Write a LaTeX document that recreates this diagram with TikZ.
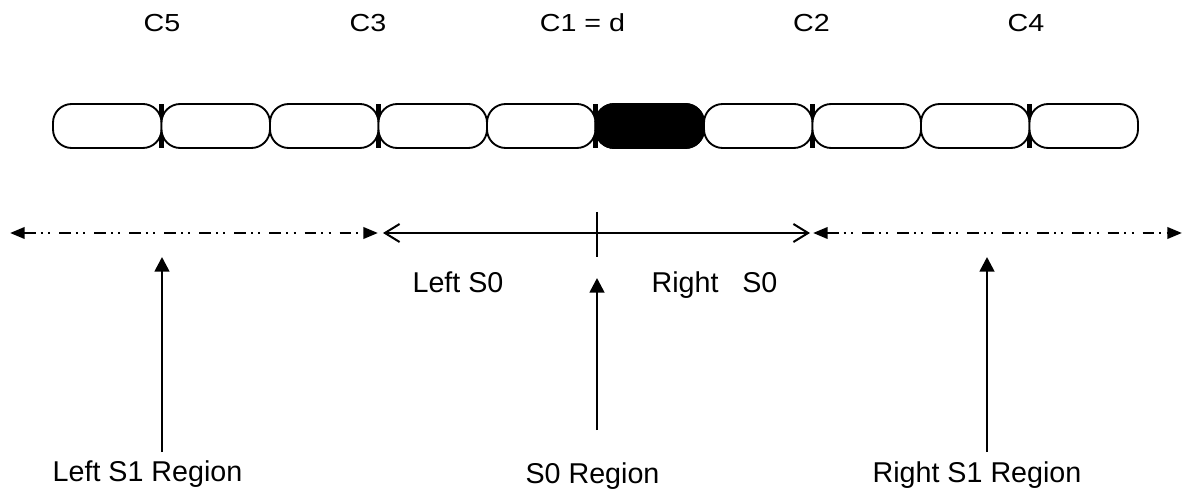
\documentclass[tikz,border=0pt]{standalone}
\usepackage{fontspec}
\setmainfont{Liberation Sans}
\usetikzlibrary{arrows.meta}
\begin{document}
\begin{tikzpicture}[x=0.75pt,y=-0.75pt,
  capsule/.style={draw,line width=1.4pt,rounded corners=14pt,fill=white,minimum width=81.375pt,minimum height=33pt,inner sep=0pt,outer sep=0pt},
  darkcap/.style={capsule,fill=black},
  lbl/.style={font=\fontsize{21.5}{26}\selectfont,inner sep=0pt,anchor=base},
  toplbl/.style={lbl},
  dashdot/.style={line width=2pt,dash pattern=on 8.8pt off 3.75pt on 1.5pt off 4pt on 1.5pt off 6.75pt,
     {Triangle[length=11pt,width=8.5pt]}-{Triangle[length=11pt,width=8.5pt]}},
  solidspan/.style={line width=1.5pt,{Straight Barb[length=11pt,width=13.5pt,line width=1.5pt]}-{Straight Barb[length=11pt,width=13.5pt,line width=1.5pt]}},
  uparrow/.style={line width=2pt,-{Triangle[length=11pt,width=11pt]}},
  pinch/.style={fill=black}
]
\useasboundingbox (0,0) rectangle (1184,498);
% pinches behind capsules
\foreach \x in {161.5,378.5,595.5,812.5,1029.5}{
  \fill[pinch] (\x-2.5,104) rectangle (\x+2.5,148);
}
% capsules
\foreach \i [evaluate=\i as \cx using 107.25+108.5*(\i-1)] in {1,...,10}{
  \node[capsule] (k\i) at (\cx,126) {};
}
\node[darkcap] (k6b) at (649.75,126) {};
% top labels
\node[toplbl] (c5) at (162,32) {\scalebox{1}[0.86]{C5}};
\node[toplbl] (c3) at (368,32) {\scalebox{1}[0.86]{C3}};
\node[toplbl] (c1) at (582.5,32) {\scalebox{1}[0.86]{C1 = d}};
\node[toplbl] (c2) at (811.5,32) {\scalebox{1}[0.86]{C2}};
\node[toplbl] (c4) at (1026,32) {\scalebox{1}[0.86]{C4}};
% spans
\coordinate (l1) at (10,233);
\coordinate (l2) at (378,233);
\coordinate (m1) at (383,233);
\coordinate (m2) at (810,233);
\coordinate (r1) at (813,233);
\coordinate (r2) at (1182,233);
\draw[dashdot] (l1) -- (l2);
\draw[solidspan] (m1) -- (m2);
\draw[dashdot] (r1) -- (r2);
\coordinate (tk1) at (597,212);
\coordinate (tk2) at (597,257);
\draw[line width=1.5pt] (tk1) -- (tk2);
% S0 labels
\node[lbl] (ls0) at (458,293) {Left S0};
\node[lbl] (rs0) at (714.5,293) {Right\ \ \ S0};
% vertical arrows
\coordinate (a1b) at (162,452);
\coordinate (a1t) at (162,257);
\coordinate (a2b) at (597,430);
\coordinate (a2t) at (597,278);
\coordinate (a3b) at (987,452);
\coordinate (a3t) at (987,257);
\draw[uparrow] (a1b) -- (a1t);
\draw[uparrow] (a2b) -- (a2t);
\draw[uparrow] (a3b) -- (a3t);
% bottom labels
\node[lbl] (ls1) at (147.5,481) {Left S1 Region};
\node[lbl] (s0r) at (592.5,483) {S0 Region};
\node[lbl] (rs1) at (977,482) {Right S1 Region};
\end{tikzpicture}
\end{document}
